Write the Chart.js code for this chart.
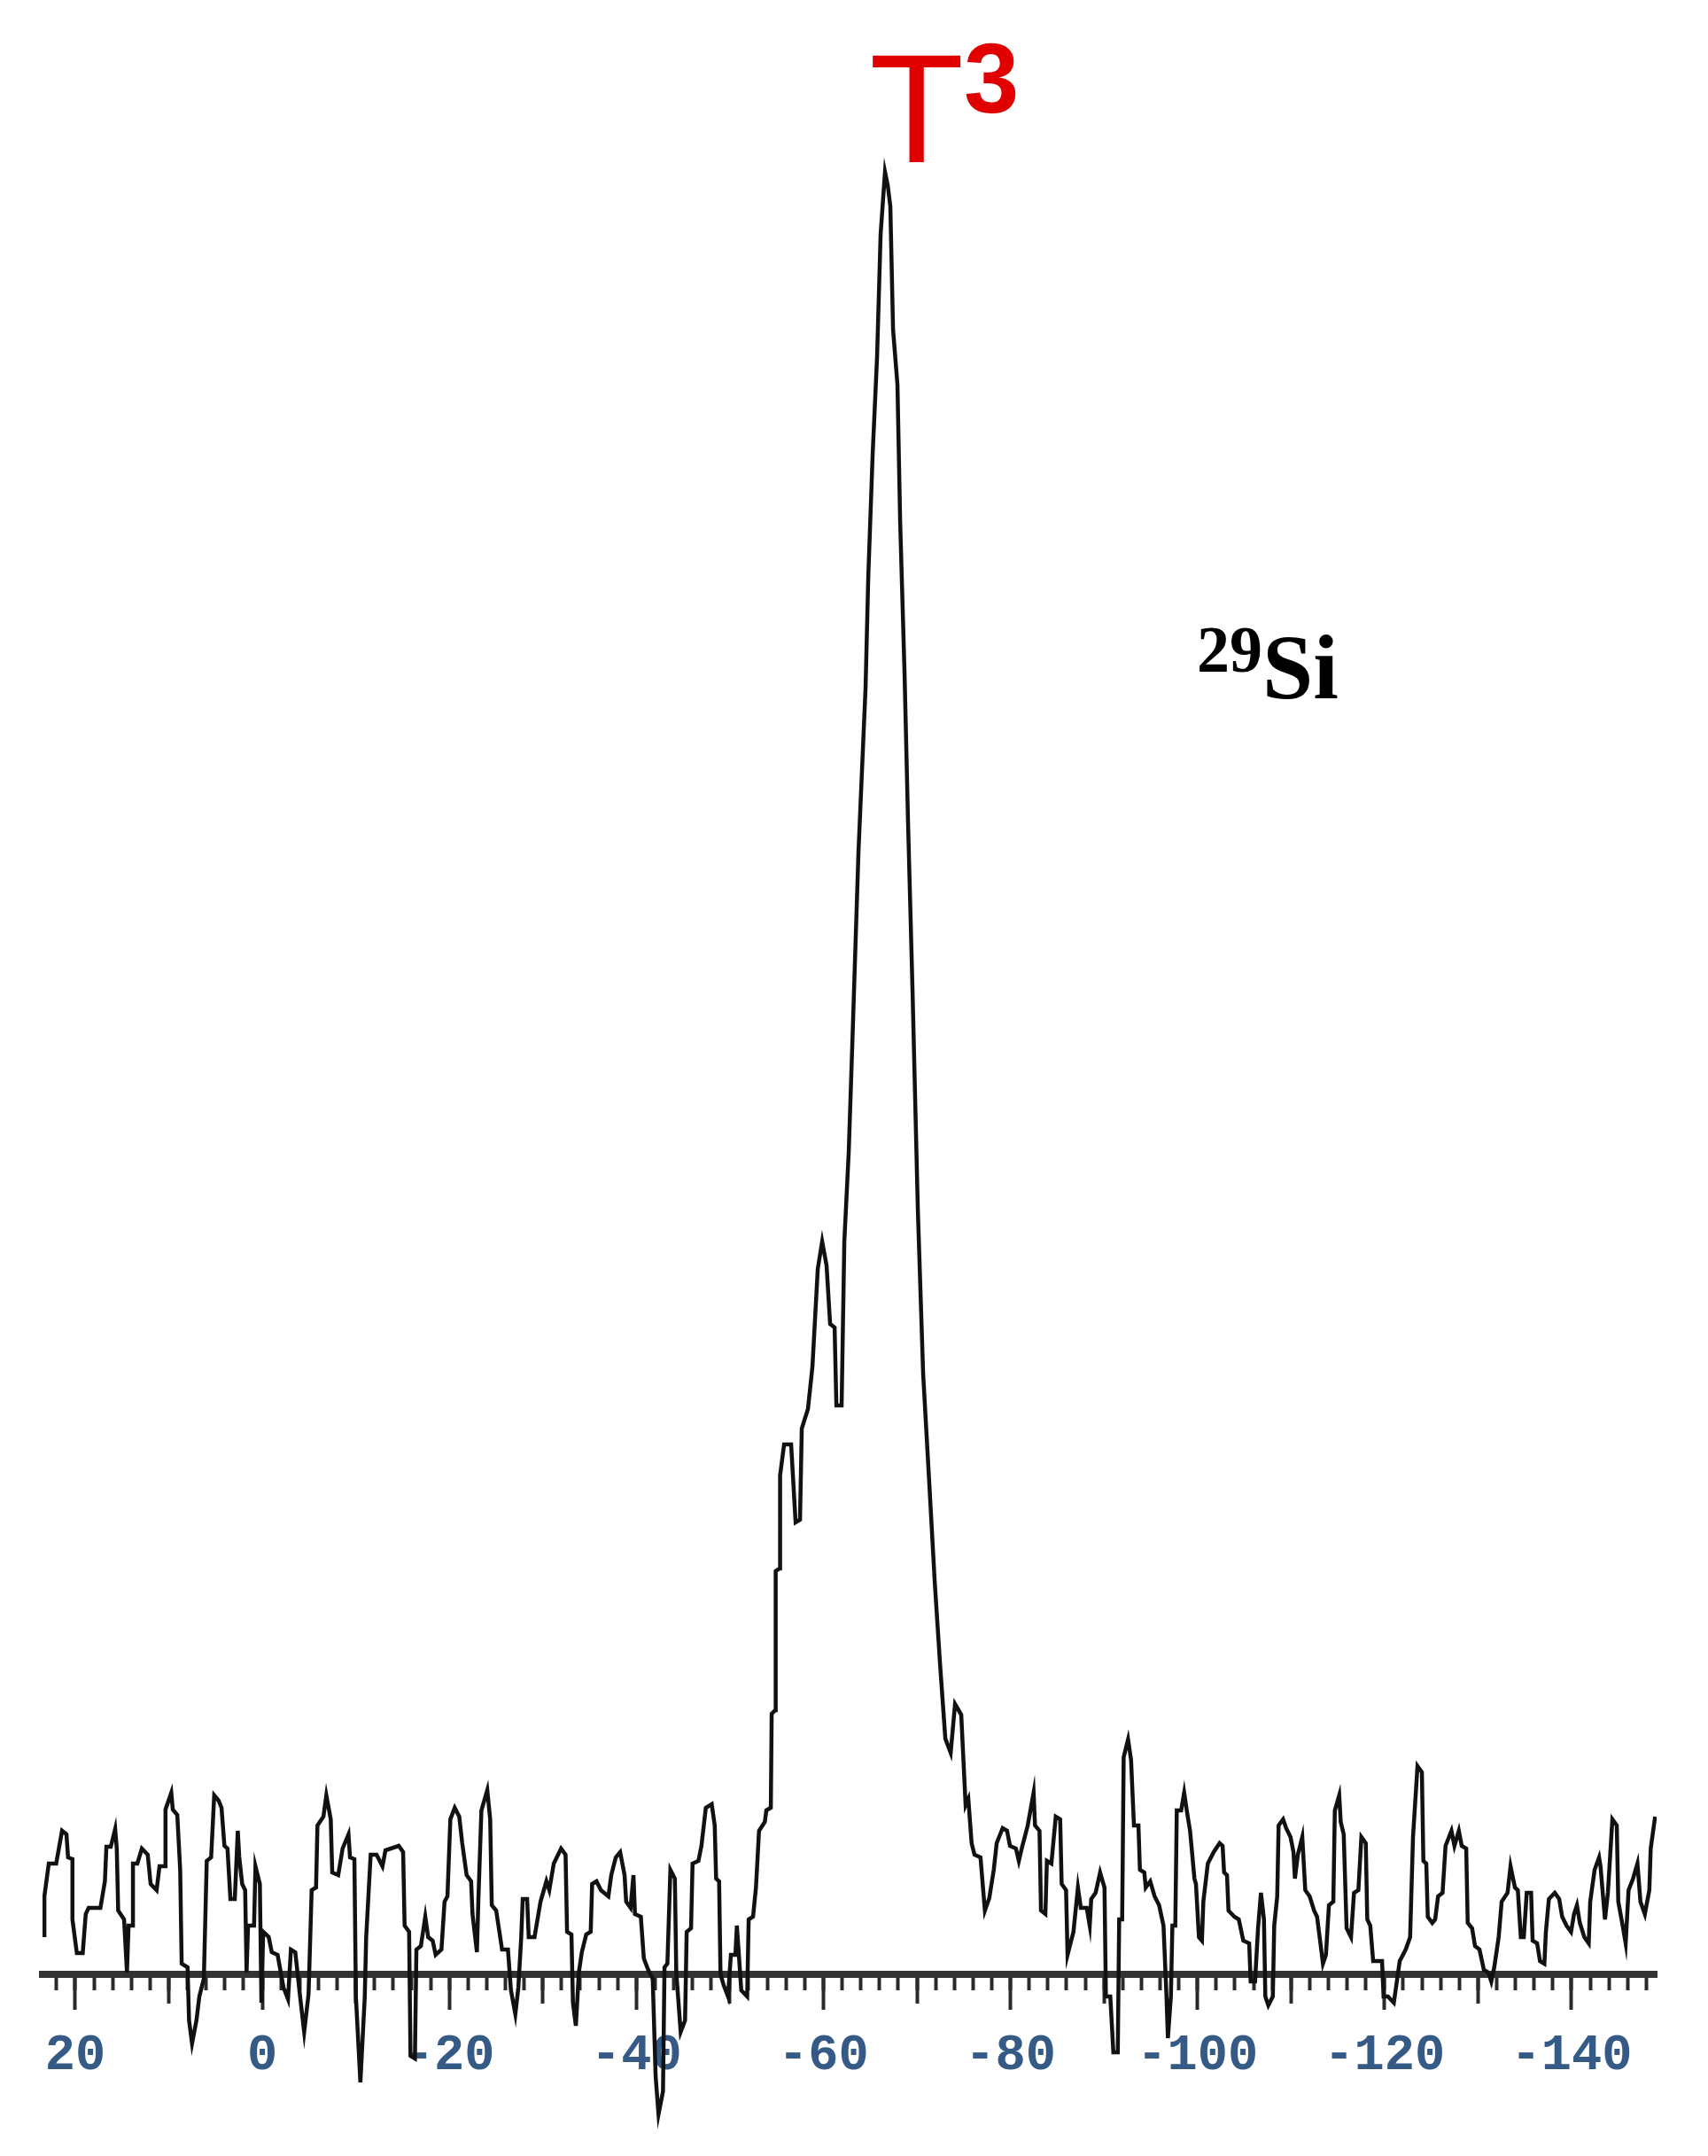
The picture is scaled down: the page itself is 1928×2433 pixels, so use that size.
<!DOCTYPE html>
<html>
<head>
<meta charset="utf-8">
<script src="https://cdn.jsdelivr.net/npm/chart.js@4.4.1/dist/chart.umd.min.js"></script>
<style>
  html, body { margin: 0; padding: 0; background: #fff; }
  #spectrum { display: block; }
</style>
</head>
<body>
<canvas id="spectrum" width="1928" height="2433"></canvas>
<script>
// 29Si spectrum, [chemical shift (ppm), intensity] - axis line is intensity 0, T3 top ~100

// baseline noise, +23 .. -12 ppm
const noiseLeft = [
  [23.30, 2.1], [23.30, 4.4], [22.83, 6.25], [22.04, 6.25], [21.41, 8.1], [20.94, 7.9], [20.77, 6.6], [20.30, 6.5],
  [20.30, 3.1], [19.83, 1.2], [19.20, 1.2], [18.88, 3.4], [18.57, 3.75], [17.31, 3.75], [16.83, 5.25], [16.67, 7.2],
  [16.20, 7.2], [15.73, 8.2], [15.56, 7.1], [15.41, 3.6], [14.78, 3.1], [14.47, 0.1], [14.30, 2.75], [13.83, 2.75],
  [13.83, 6.25], [13.36, 6.25], [12.88, 7.1], [12.25, 6.75], [11.94, 5.1], [11.30, 4.75], [10.99, 6.1], [10.35, 6.1],
  [10.35, 9.3], [9.73, 10.25], [9.57, 9.3], [9.09, 9.0], [8.78, 5.9], [8.62, 0.6], [7.99, 0.4], [7.83, -2.6],
  [7.51, -3.9], [7.04, -2.6], [6.73, -1.25], [6.25, -0.25], [5.94, 6.4], [5.47, 6.6], [5.14, 10.1], [4.67, 9.8],
  [4.36, 9.4], [4.05, 7.25], [3.72, 7.1], [3.41, 4.25], [2.94, 4.25], [2.62, 8.1], [2.46, 6.6], [2.15, 5.1],
  [1.83, 4.75], [1.68, 0.1], [1.52, 2.75], [0.88, 2.75], [0.73, 6.1], [0.26, 5.1], [0.09, -1.6], [-0.10, 2.4],
  [-0.69, 2.1], [-1.01, 1.25], [-1.64, 1.1], [-2.27, -0.75], [-2.75, -1.4], [-3.06, 1.4], [-3.53, 1.25], [-4.01, -1.1],
  [-4.48, -3.25], [-4.95, -1.1], [-5.28, 4.75], [-5.75, 4.9], [-5.90, 8.4], [-6.54, 8.9], [-6.85, 10.1], [-7.32, 8.75],
  [-7.48, 5.75], [-8.12, 5.6], [-8.59, 7.1], [-9.22, 7.9], [-9.38, 6.6], [-9.85, 6.5], [-10.01, -1.25], [-10.49, -6.1],
  [-10.96, -1.25], [-11.11, 2.1], [-11.59, 6.75]
];

// baseline noise, -12 .. -48 ppm
const noiseMid = [
  [-12.22, 6.75], [-12.85, 6.1], [-13.17, 7.0], [-14.59, 7.25], [-15.06, 6.9], [-15.22, 2.75], [-15.70, 2.4], [-15.85, -4.6],
  [-16.32, -4.75], [-16.48, 1.4], [-16.96, 1.6], [-17.43, 3.25], [-17.74, 2.1], [-18.22, 1.9], [-18.54, 1.1], [-19.16, 1.4],
  [-19.49, 4.1], [-19.80, 4.4], [-20.11, 8.75], [-20.58, 9.4], [-21.06, 8.9], [-21.38, 7.4], [-21.85, 5.6], [-22.33, 5.25],
  [-22.48, 3.4], [-22.95, 1.25], [-23.11, 4.25], [-23.43, 9.25], [-24.06, 10.4], [-24.37, 8.75], [-24.54, 3.9], [-25.01, 3.6],
  [-25.64, 1.4], [-26.27, 1.4], [-26.59, -0.9], [-27.06, -2.25], [-27.38, -0.75], [-27.69, 2.1], [-27.85, 4.25], [-28.32, 4.25],
  [-28.49, 2.1], [-29.11, 2.1], [-29.75, 4.1], [-30.38, 5.25], [-30.69, 4.75], [-31.17, 6.25], [-31.95, 7.1], [-32.43, 6.75],
  [-32.59, 2.4], [-33.06, 2.25], [-33.22, -1.6], [-33.53, -2.9], [-33.85, 0.1], [-34.17, 1.25], [-34.64, 2.25], [-35.12, 2.4],
  [-35.27, 5.1], [-35.74, 5.25], [-36.21, 4.75], [-37.01, 4.4], [-37.32, 5.6], [-37.80, 6.6], [-38.27, 6.9], [-38.74, 5.6],
  [-38.91, 4.1], [-39.38, 3.75], [-39.69, 5.6], [-39.85, 3.4], [-40.48, 3.25], [-40.80, 0.9], [-41.27, 0.25], [-41.75, -0.25],
  [-42.06, -5.75], [-42.37, -7.9], [-42.85, -6.6], [-43.01, 0.4], [-43.32, 0.6], [-43.64, 5.9], [-44.12, 5.4], [-44.27, 0.1],
  [-44.74, -3.25], [-45.21, -2.6], [-45.38, 2.4], [-45.85, 2.6], [-46.01, 6.25], [-46.64, 6.4], [-46.96, 7.25], [-47.43, 9.4]
];

// T3 resonance with its shoulder, -48 .. -83 ppm
const peakT3 = [
  [-48.06, 9.6], [-48.38, 8.4], [-48.53, 5.4], [-48.85, 5.25], [-49.00, 0.0], [-49.33, -0.6], [-49.80, -1.25], [-50.11, 1.1],
  [-50.59, 1.1], [-50.75, 2.75], [-51.22, -0.9], [-51.85, -1.25], [-52.01, 3.1], [-52.48, 3.25], [-52.79, 4.9], [-53.12, 8.1],
  [-53.74, 8.6], [-53.90, 9.25], [-54.38, 9.4], [-54.47, 14.7], [-54.85, 14.9], [-54.90, 22.75], [-55.32, 22.9], [-55.37, 28.15],
  [-55.80, 29.9], [-56.55, 29.9], [-57.03, 25.5], [-57.50, 25.65], [-57.69, 30.8], [-58.35, 31.9], [-58.83, 34.3], [-59.40, 39.8],
  [-59.87, 41.35], [-60.34, 40.0], [-60.72, 36.7], [-61.20, 36.5], [-61.39, 32.1], [-61.95, 32.1], [-62.24, 41.35], [-62.71, 46.4],
  [-63.09, 52.45], [-63.75, 63.3], [-64.51, 72.6], [-64.80, 78.85], [-65.27, 85.8], [-65.74, 91.25], [-66.12, 98.2], [-66.59, 101.7],
  [-66.88, 100.95], [-67.16, 99.75], [-67.45, 92.8], [-67.92, 89.7], [-68.21, 81.95], [-68.68, 73.4], [-69.06, 64.85], [-69.53, 55.55],
  [-70.10, 43.15], [-70.67, 33.85], [-71.33, 27.65], [-71.90, 22.2], [-72.47, 17.55], [-73.04, 13.3], [-73.61, 12.5], [-74.08, 15.25],
  [-74.74, 14.65], [-75.21, 9.55], [-75.50, 9.9], [-75.85, 7.4], [-76.16, 6.75], [-76.80, 6.6], [-77.27, 3.6], [-77.74, 4.3],
  [-78.22, 5.9], [-78.53, 7.4], [-79.17, 8.25], [-79.64, 8.1], [-79.95, 7.25], [-80.59, 7.1], [-80.90, 6.4], [-81.21, 7.1],
  [-81.85, 8.4], [-82.48, 10.25], [-82.63, 8.4], [-83.11, 8.1], [-83.27, 3.6]
];

// baseline noise, -83 .. -115 ppm
const noiseRight = [
  [-83.74, 3.4], [-83.90, 6.4], [-84.38, 6.25], [-84.85, 8.9], [-85.32, 8.75], [-85.48, 5.1], [-85.95, 4.75], [-86.11, 1.1],
  [-86.74, 2.4], [-87.22, 4.9], [-87.53, 3.75], [-88.16, 3.75], [-88.48, 2.75], [-88.64, 4.25], [-89.11, 4.6], [-89.59, 5.75],
  [-90.06, 4.9], [-90.21, -1.25], [-90.68, -1.25], [-91.01, -4.4], [-91.48, -4.4], [-91.63, 3.1], [-91.95, 3.1], [-92.11, 12.25],
  [-92.58, 13.25], [-92.90, 12.1], [-93.21, 8.4], [-93.69, 8.4], [-93.85, 5.9], [-94.32, 5.75], [-94.47, 4.9], [-94.95, 5.25],
  [-95.42, 4.4], [-95.90, 3.9], [-96.37, 2.75], [-96.69, -1.25], [-96.84, -3.6], [-97.16, -1.25], [-97.32, 2.75], [-97.63, 2.75],
  [-97.79, 9.25], [-98.26, 9.25], [-98.58, 10.25], [-98.90, 9.1], [-99.21, 8.1], [-99.68, 5.4], [-99.84, 5.1], [-100.16, 2.1],
  [-100.48, 1.9], [-100.63, 4.1], [-101.11, 6.25], [-101.74, 6.9], [-102.37, 7.4], [-102.69, 7.25], [-102.85, 5.75], [-103.16, 5.6],
  [-103.32, 3.6], [-103.95, 3.25], [-104.42, 3.1], [-104.90, 1.9], [-105.53, 1.75], [-105.69, -0.4], [-106.16, -0.4], [-106.48, 2.6],
  [-106.79, 4.6], [-107.11, 3.1], [-107.26, -1.25], [-107.58, -1.75], [-108.06, -1.25], [-108.21, 2.75], [-108.53, 4.4], [-108.68, 8.4],
  [-109.16, 8.75], [-109.48, 8.25], [-109.95, 7.75], [-110.27, 6.9], [-110.42, 5.4], [-110.74, 6.75], [-111.21, 7.75], [-111.53, 4.75],
  [-112.00, 4.4], [-112.47, 3.6], [-112.79, 3.25], [-113.27, 1.25], [-113.42, 0.6], [-113.74, 1.1], [-114.06, 3.9], [-114.53, 4.1],
  [-114.69, 9.25], [-115.16, 10.1]
];

// baseline noise, -115 .. -149 ppm
const noiseFar = [
  [-115.32, 8.6], [-115.64, 7.9], [-115.95, 2.6], [-116.42, 2.1], [-116.74, 4.6], [-117.21, 4.75], [-117.53, 7.75], [-118.00, 7.4],
  [-118.16, 3.1], [-118.48, 2.75], [-118.79, 0.75], [-119.74, 0.75], [-119.90, -1.25], [-120.37, -1.25], [-121.00, -1.6], [-121.63, 0.75],
  [-122.27, 1.4], [-122.74, 2.1], [-123.05, 7.75], [-123.53, 11.75], [-124.00, 11.4], [-124.16, 6.4], [-124.47, 6.25], [-124.63, 3.25],
  [-125.11, 2.9], [-125.42, 3.1], [-125.73, 4.4], [-126.21, 4.6], [-126.53, 7.25], [-127.16, 8.1], [-127.48, 7.25], [-127.95, 8.1],
  [-128.26, 7.25], [-128.74, 7.1], [-128.90, 2.9], [-129.37, 2.6], [-129.68, 1.6], [-130.16, 1.4], [-130.63, 0.25], [-131.11, 0.1],
  [-131.42, -0.4], [-131.74, 0.4], [-132.21, 2.1], [-132.53, 4.1], [-133.16, 4.6], [-133.48, 6.1], [-133.95, 4.9], [-134.26, 4.75],
  [-134.58, 2.1], [-134.90, 2.1], [-135.21, 4.6], [-135.68, 4.6], [-135.84, 1.9], [-136.32, 1.75], [-136.63, 0.75], [-137.10, 0.6],
  [-137.26, 2.4], [-137.58, 4.25], [-138.21, 4.6], [-138.68, 4.25], [-139.00, 3.25], [-139.47, 2.75], [-139.95, 2.4], [-140.27, 3.4],
  [-140.58, 3.9], [-140.89, 2.9], [-141.37, 2.1], [-141.84, 1.75], [-142.00, 4.1], [-142.47, 5.9], [-142.95, 6.6], [-143.10, 6.1],
  [-143.42, 4.1], [-143.58, 3.1], [-143.89, 4.6], [-144.37, 8.75], [-144.84, 8.4], [-145.00, 4.1], [-145.47, 2.75], [-145.79, 1.75],
  [-146.10, 4.75], [-146.58, 5.4], [-147.05, 6.25], [-147.37, 4.1], [-147.84, 3.4], [-148.32, 4.75], [-148.47, 7.1], [-148.94, 8.9]
];

// axis ticks (ppm)
const majorTicks = [20, 0, -20, -40, -60, -80, -100, -120, -140];
const midTicks = [10, -10, -30, -50, -70, -90, -110, -130];
const minorTicks = [];
for (let v = 22; v >= -148; v -= 2) minorTicks.push(v);

// text
const peakName = 'T';
const peakSup = '3';
const nucleusSup = '29';
const nucleusName = 'Si';

const spectrum = [...noiseLeft, ...noiseMid, ...peakT3, ...noiseRight, ...noiseFar]
  .map(([x, y]) => ({ x, y }));

const tickInk = '#2a2a2a';

function ppmAxis(ticks, len, extra) {
  return Object.assign({
    type: 'linear',
    axis: 'x',
    min: -149.1,
    max: 23.5,
    reverse: true,
    position: { y: 0 },
    afterBuildTicks: (a) => { a.ticks = ticks.map(v => ({ value: v })); },
    border: { display: false },
    grid: { drawOnChartArea: false, drawTicks: true, tickLength: len, tickWidth: 4, tickColor: tickInk },
    ticks: { display: false, autoSkip: false }
  }, extra);
}

const labelPlugin = {
  id: 'spectrumLabels',
  afterDatasetsDraw(chart) {
    const { ctx } = chart;
    const xs = chart.scales.x;
    const ys = chart.scales.y;
    ctx.save();
    ctx.textAlign = 'left';
    ctx.textBaseline = 'alphabetic';

    // T3 over the main peak
    let px = xs.getPixelForValue(-64.9);
    let py = ys.getPixelForValue(102.25);
    ctx.fillStyle = '#e00000';
    ctx.font = '175px "Liberation Sans", Arial, sans-serif';
    ctx.fillText(peakName, px, py);
    const tw = ctx.measureText(peakName).width;
    ctx.font = 'bold 112px "Liberation Sans", Arial, sans-serif';
    ctx.fillText(peakSup, px + tw, py - 56);

    // 29Si
    px = xs.getPixelForValue(-99.94);
    py = ys.getPixelForValue(73.5);
    ctx.fillStyle = '#000';
    ctx.font = 'bold 74px "Liberation Serif", "Times New Roman", serif';
    ctx.fillText(nucleusSup, px, py);
    const sw = ctx.measureText(nucleusSup).width;
    ctx.font = 'bold 103px "Liberation Serif", "Times New Roman", serif';
    ctx.fillText(nucleusName, px + sw, py + 30);
    ctx.restore();
  }
};

new Chart(document.getElementById('spectrum'), {
  type: 'line',
  data: {
    datasets: [{
      data: spectrum,
      borderColor: '#111',
      borderWidth: 4.5,
      pointRadius: 0,
      tension: 0,
      fill: false,
      xAxisID: 'x',
      yAxisID: 'y'
    }]
  },
  options: {
    responsive: false,
    animation: false,
    devicePixelRatio: 1,
    layout: { padding: { left: 48, right: 58, top: 0, bottom: 0 } },
    plugins: { legend: { display: false }, tooltip: { enabled: false } },
    scales: {
      x: ppmAxis(minorTicks, 14, {
        border: { display: true, color: '#333', width: 8 }
      }),
      xMid: ppmAxis(midTicks, 33),
      xMajor: ppmAxis(majorTicks, 40, {
        ticks: {
          display: true,
          autoSkip: false,
          maxRotation: 0,
          padding: 18,
          color: '#345a85',
          font: { family: '"Liberation Mono", monospace', size: 57, weight: 'bold' },
          callback: (v) => String(v)
        }
      }),
      y: { display: false, min: -10.25, max: 111.4 }
    }
  },
  plugins: [labelPlugin]
});
</script>
</body>
</html>
